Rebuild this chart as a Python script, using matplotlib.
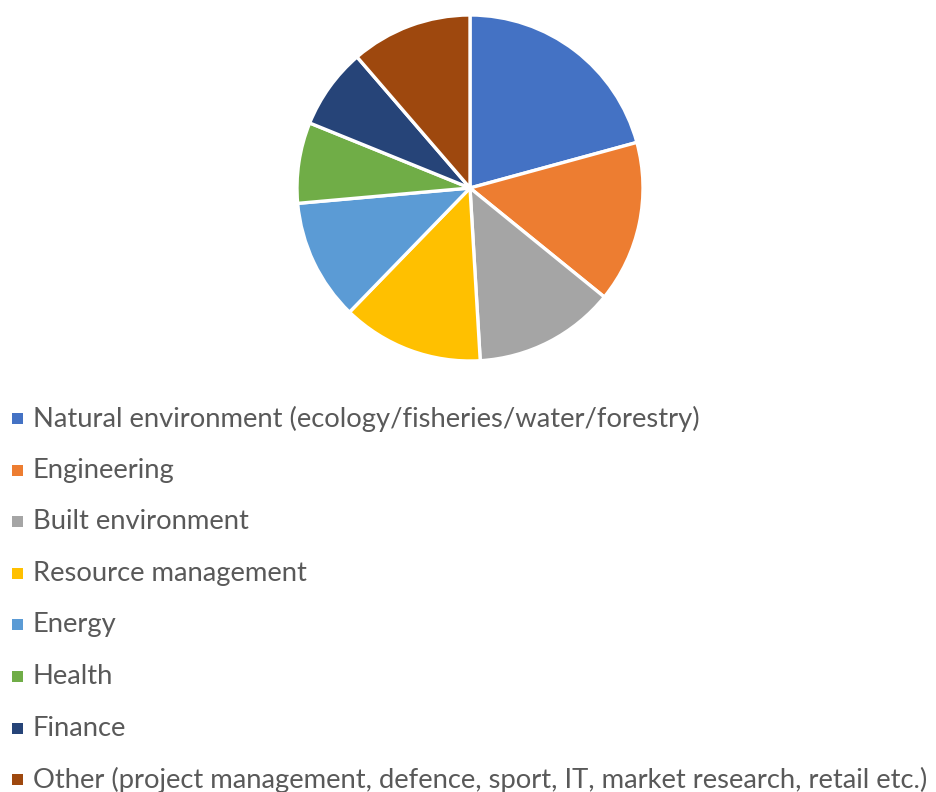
import matplotlib
matplotlib.use("Agg")
import matplotlib.pyplot as plt
from matplotlib.patches import Rectangle

categories = [
    "Natural environment (ecology/fisheries/water/forestry)",
    "Engineering",
    "Built environment",
    "Resource management",
    "Energy",
    "Health",
    "Finance",
    "Other (project management, defence, sport, IT, market research, retail etc.)",
]
values = [11, 8, 7, 7, 6, 4, 4, 6]
colors = ["#4472C4", "#ED7D31", "#A5A5A5", "#FFC000", "#5B9BD5", "#70AD47", "#264478", "#9E480E"]

W, H = 937, 792
fig = plt.figure(figsize=(W / 100, H / 100), dpi=100)

cx, cy, r = 470, 188, 173
ax = fig.add_axes([(cx - r) / W, (H - cy - r) / H, 2 * r / W, 2 * r / H])
ax.pie(values, colors=colors, startangle=90, counterclock=False, radius=1,
       wedgeprops=dict(edgecolor="white", linewidth=2.4))
ax.set_xlim(-1, 1)
ax.set_ylim(-1, 1)
ax.set_aspect("equal")
ax.axis("off")

# legend
lax = fig.add_axes([0, 0, 1, 1])
lax.set_xlim(0, W)
lax.set_ylim(H, 0)
lax.axis("off")
y0, dy = 418.5, 51.6
sq = 11
for i, (lab, col) in enumerate(zip(categories, colors)):
    y = y0 + i * dy
    lax.add_patch(Rectangle((12, y - sq / 2), sq, sq, facecolor=col, edgecolor="none"))
    lax.text(33, y, lab, fontsize=19.7, color="#595959", va="center", ha="left",
             family=["Lato", "DejaVu Sans"])

fig.savefig("out.png", dpi=100)
